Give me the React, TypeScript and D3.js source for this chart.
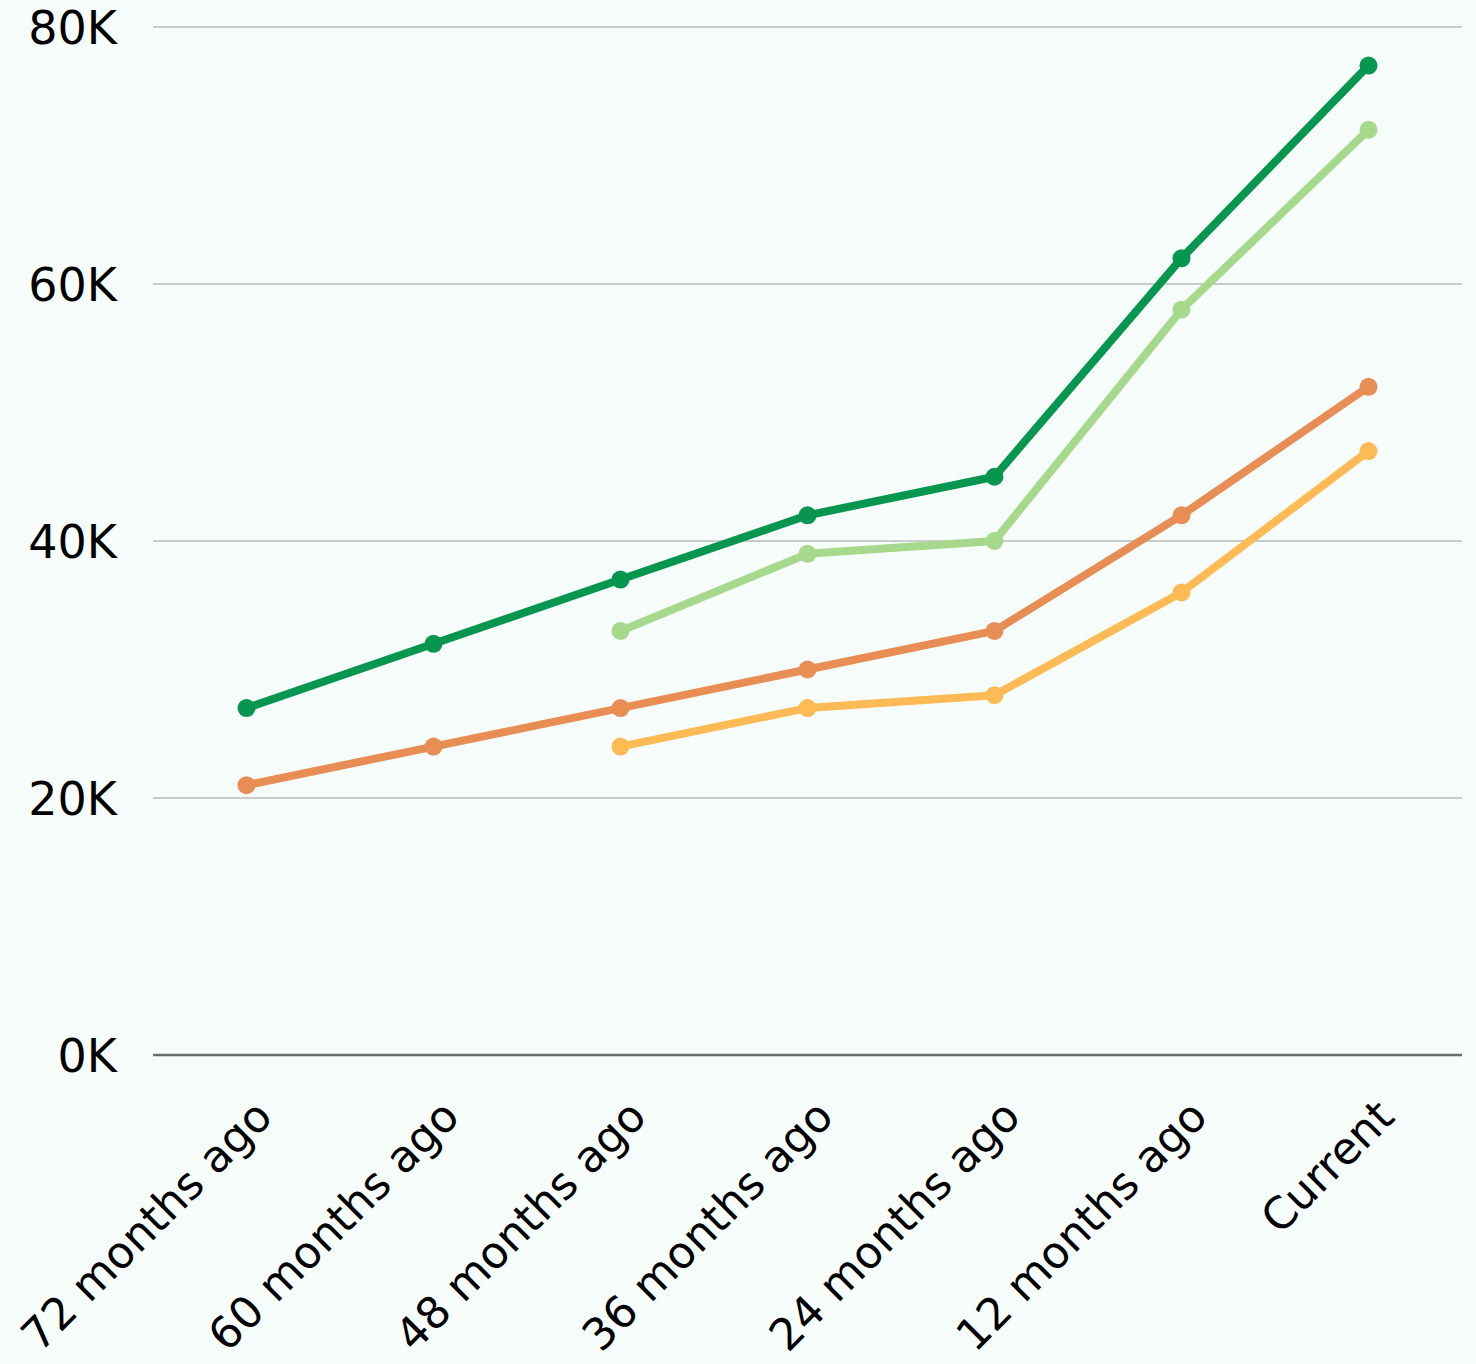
import React from "react";
import * as d3 from "d3";

const categories = ["72 months ago", "60 months ago", "48 months ago", "36 months ago", "24 months ago", "12 months ago", "Current"];
const darkGreen: (number | null)[] = [27000, 32000, 37000, 42000, 45000, 62000, 77000];
const lightGreen: (number | null)[] = [null, null, 33000, 39000, 40000, 58000, 72000];
const orange: (number | null)[] = [21000, 24000, 27000, 30000, 33000, 42000, 52000];
const yellow: (number | null)[] = [null, null, 24000, 27000, 28000, 36000, 47000];
const yTicks = [0, 20000, 40000, 60000, 80000];

const seriesList = [
  { name: "orange", values: orange, color: "#e88e55" },
  { name: "yellow", values: yellow, color: "#fdba55" },
  { name: "lightGreen", values: lightGreen, color: "#a6d98b" },
  { name: "darkGreen", values: darkGreen, color: "#07964f" },
];

const W = 1476;
const H = 1364;
const FONT = "'DejaVu Sans', sans-serif";

export default function App() {
  const x = d3.scalePoint<string>().domain(categories).range([153, 1462]).padding(0.5);
  const y = d3.scaleLinear().domain([0, 80000]).range([1055, 27]);
  const line = d3
    .line<{ c: string; v: number | null }>()
    .defined((d) => d.v !== null)
    .x((d) => x(d.c) as number)
    .y((d) => y(d.v as number));

  return (
    <svg width={W} height={H} style={{ position: "absolute", left: 0, top: 0, background: "#f7fdfb" }}>
      <rect x={0} y={0} width={W} height={H} fill="#f7fdfb" />
      {yTicks.map((t) => (
        <g key={t}>
          <line x1={153} x2={1462} y1={y(t)} y2={y(t)} stroke={t === 0 ? "#6a6e6c" : "#b9bcbc"} strokeWidth={t === 0 ? 2.5 : 1.5} />
          <text x={117} y={y(t)} dy="0.36em" textAnchor="end" fontFamily={FONT} fontSize={46} fill="#000">
            {`${t / 1000}K`}
          </text>
        </g>
      ))}
      {seriesList.map((s) => {
        const data = categories.map((c, i) => ({ c, v: s.values[i] }));
        return (
          <g key={s.name}>
            <path d={line(data) || ""} fill="none" stroke={s.color} strokeWidth={8} strokeLinejoin="round" />
            {data
              .filter((d) => d.v !== null)
              .map((d) => (
                <circle key={d.c} cx={x(d.c)} cy={y(d.v as number)} r={9} fill={s.color} />
              ))}
          </g>
        );
      })}
      {categories.map((c) => (
        <text
          key={c}
          transform={`translate(${(x(c) as number) + 28},${1119}) rotate(-45)`}
          textAnchor="end"
          fontFamily={FONT}
          fontSize={44}
          fill="#000"
        >
          {c}
        </text>
      ))}
    </svg>
  );
}
